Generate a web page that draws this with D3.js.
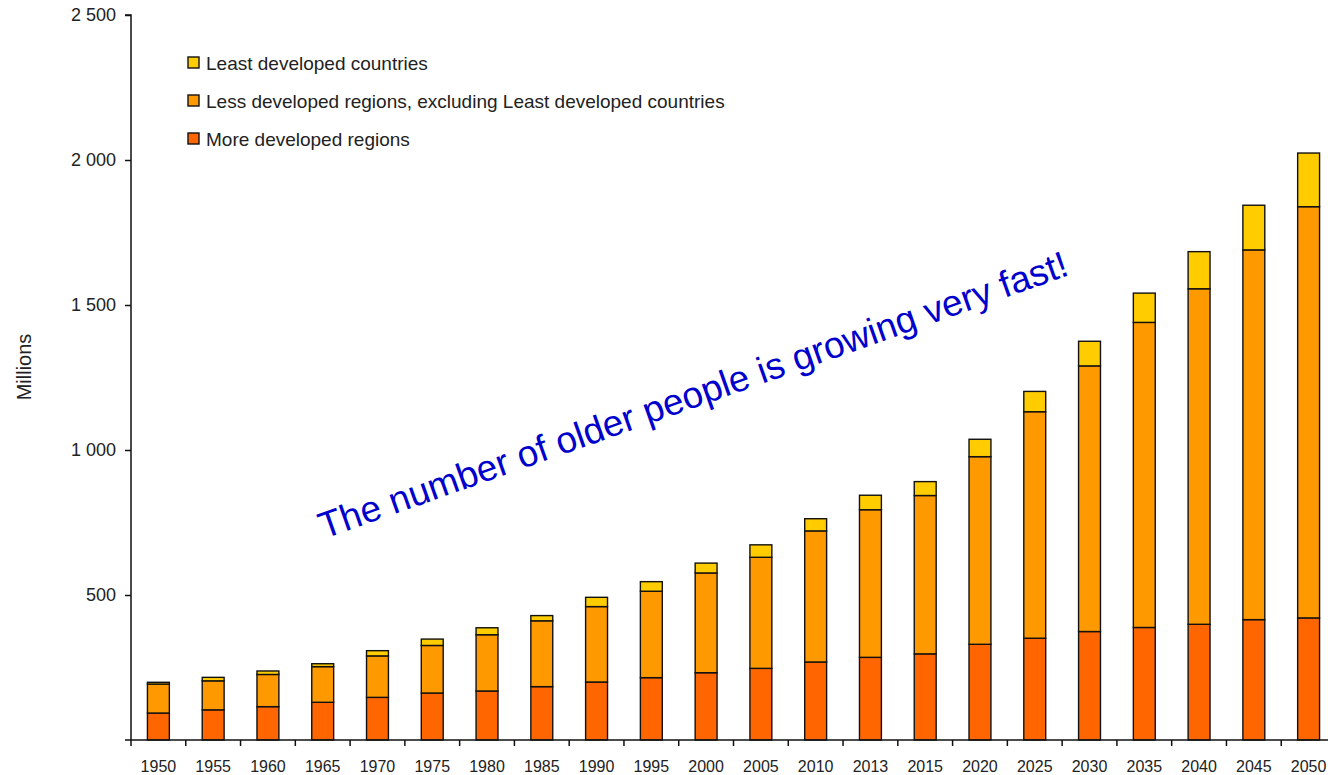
<!DOCTYPE html>
<html>
<head>
<meta charset="utf-8">
<script src="https://cdn.jsdelivr.net/npm/d3@7"></script>
<style>
  body { margin: 0; background: #fff; }
  text { font-family: "Liberation Sans", Arial, sans-serif; fill: #222; }
</style>
</head>
<body>
<div id="chart"></div>
<script>
var years = ["1950","1955","1960","1965","1970","1975","1980","1985","1990","1995","2000",
             "2005","2010","2013","2015","2020","2025","2030","2035","2040","2045","2050"];
var moreDeveloped  = [93, 104, 115, 130, 147, 162, 169, 184, 200, 215, 232, 247, 269, 285, 297, 330, 351, 374, 388, 399, 415, 421];
var lessDeveloped  = [100, 100, 111, 123, 143, 164, 194, 227, 260, 298, 344, 383, 452, 509, 546, 647, 781, 916, 1052, 1157, 1275, 1418];
var leastDeveloped = [6, 12, 12, 10, 18, 22, 24, 18, 32, 33, 34, 43, 42, 50, 48, 60, 70, 85, 101, 128, 154, 185];
var seriesNames = ["More developed regions", "Less developed regions, excluding Least developed countries", "Least developed countries"];
var seriesColors = ["#ff6600", "#ff9900", "#ffcc00"];
var yTicks = [500, 1000, 1500, 2000, 2500];

var width = 1328, height = 775;
var margins = {top: 15, bottom: 35, left: 131, right: -8};

/* Table for the stack */
var table = years.map(function(y, i) {
    return {year: y, s0: moreDeveloped[i], s1: lessDeveloped[i], s2: leastDeveloped[i]};
});
var stacked = d3.stack().keys(["s0", "s1", "s2"])(table);

var svg = d3.select("#chart")
    .append("svg")
        .attr("width", width)
        .attr("height", height);

/* Scales */
var x = d3.scaleBand()
    .domain(years)
    .range([margins.left, width - margins.right])
    .paddingInner(0.6)
    .paddingOuter(0.3);
var y = d3.scaleLinear()
    .domain([0, 2500])
    .range([height - margins.bottom, margins.top]);

/* Bars */
svg.selectAll(".series")
    .data(stacked)
    .enter()
    .append("g")
        .attr("class", "series")
        .attr("fill", function(d, i) { return seriesColors[i]; })
    .selectAll("rect")
    .data(function(d) { return d; })
    .enter()
    .append("rect")
        .attr("x", function(d) { return x(d.data.year); })
        .attr("y", function(d) { return y(d[1]); })
        .attr("width", x.bandwidth())
        .attr("height", function(d) { return y(d[0]) - y(d[1]); })
        .attr("stroke", "#111")
        .attr("stroke-width", 1.4);

/* Y axis */
var locale = d3.formatLocale({decimal: ".", thousands: "\u00a0", grouping: [3], currency: ["", ""]});
var yAxis = d3.axisLeft(y)
    .tickValues(yTicks)
    .tickFormat(locale.format(","))
    .tickSize(6)
    .tickPadding(9);
svg.append("g")
    .attr("class", "yAxis")
    .attr("transform", "translate(" + margins.left + ",0)")
    .call(yAxis)
    .call(function(g) {
        g.select(".domain").attr("stroke", "#111").attr("stroke-width", 1.5).attr("d", "M-6," + y(2500) + "H0V" + y(0));
        g.selectAll(".tick line").attr("stroke", "#111").attr("stroke-width", 1.5);
        g.selectAll(".tick text").style("font-size", "18px").attr("fill", "#222");
    });

/* X axis */
var step = x.step();
var xAxisG = svg.append("g")
    .attr("class", "xAxis")
    .attr("transform", "translate(0," + y(0) + ")");
xAxisG.append("line")
    .attr("x1", margins.left - 6).attr("x2", width)
    .attr("stroke", "#111").attr("stroke-width", 1.5);
xAxisG.selectAll(".tk")
    .data(years)
    .enter()
    .append("line")
        .attr("class", "tk")
        .attr("x1", function(d) { return x(d) + x.bandwidth() / 2 - step / 2; })
        .attr("x2", function(d) { return x(d) + x.bandwidth() / 2 - step / 2; })
        .attr("y1", 0).attr("y2", 6)
        .attr("stroke", "#111").attr("stroke-width", 1.5);
xAxisG.selectAll(".lbl")
    .data(years)
    .enter()
    .append("text")
        .attr("class", "lbl")
        .attr("x", function(d) { return x(d) + x.bandwidth() / 2; })
        .attr("y", 32)
        .attr("text-anchor", "middle")
        .style("font-size", "16px")
        .text(function(d) { return d; });

/* Y label */
svg.append("text")
    .attr("transform", "translate(31,367) rotate(-90)")
    .attr("text-anchor", "middle")
    .style("font-size", "20px")
    .text("Millions");

/* Legend */
var legend = svg.append("g").attr("class", "legend");
var legendOrder = [2, 1, 0];
legendOrder.forEach(function(s, i) {
    var ly = 63 + i * 38;
    legend.append("rect")
        .attr("x", 188).attr("y", ly - 6)
        .attr("width", 11).attr("height", 11)
        .attr("fill", seriesColors[s])
        .attr("stroke", "#111").attr("stroke-width", 1.4);
    legend.append("text")
        .attr("x", 206).attr("y", ly + 7)
        .style("font-size", "19px")
        .text(seriesNames[s]);
});

/* Annotation */
svg.append("text")
    .attr("transform", "translate(324,539) rotate(-19.5)")
    .style("font-size", "37px")
    .style("fill", "#0000cc")
    .text("The number of older people is growing very fast!");
</script>
</body>
</html>
